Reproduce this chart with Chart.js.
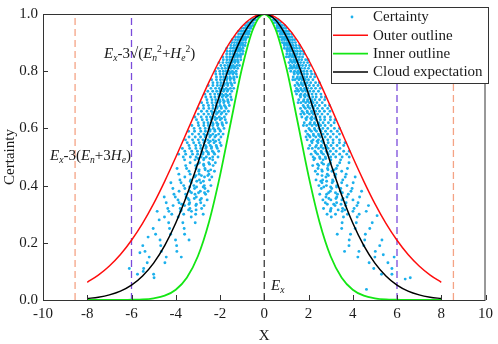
<!DOCTYPE html>
<html>
<head>
<meta charset="utf-8">
<script src="https://cdn.jsdelivr.net/npm/chart.js@4.4.1/dist/chart.umd.min.js"></script>
<style>
  html, body { margin: 0; padding: 0; background: #fff; }
  #wrap { width: 498px; height: 344px; }
</style>
</head>
<body>
<div id="wrap"><canvas id="cloudChart" width="498" height="344"></canvas></div>
<script>
// outline curves, sampled every 0.5 along X
const curveX = [-8, -7.5, -7, -6.5, -6, -5.5, -5, -4.5, -4, -3.5, -3, -2.5, -2, -1.5, -1, -0.5, 0,
  0.5, 1, 1.5, 2, 2.5, 3, 3.5, 4, 4.5, 5, 5.5, 6, 6.5, 7, 7.5, 8];
const outerY = [0.062, 0.087, 0.119, 0.159, 0.209, 0.268, 0.337, 0.415, 0.499, 0.587, 0.676, 0.762, 0.840, 0.907, 0.957, 0.989, 1,
  0.989, 0.957, 0.907, 0.840, 0.762, 0.676, 0.587, 0.499, 0.415, 0.337, 0.268, 0.209, 0.159, 0.119, 0.087, 0.062];
const innerY = [0, 0, 0, 0, 0.001, 0.002, 0.006, 0.015, 0.036, 0.078, 0.153, 0.272, 0.435, 0.626, 0.812, 0.949, 1,
  0.949, 0.812, 0.626, 0.435, 0.272, 0.153, 0.078, 0.036, 0.015, 0.006, 0.002, 0.001, 0, 0, 0, 0];
const expectY = [0.005, 0.010, 0.018, 0.031, 0.052, 0.084, 0.129, 0.190, 0.269, 0.366, 0.478, 0.599, 0.720, 0.832, 0.921, 0.980, 1,
  0.980, 0.921, 0.832, 0.720, 0.599, 0.478, 0.366, 0.269, 0.190, 0.129, 0.084, 0.052, 0.031, 0.018, 0.010, 0.005];

// dashed guides: Ex-3(En+3He), Ex-3sqrt(En^2+He^2), Ex and the mirrored ones
const guideX = [-8.55, -6, 0, 6, 8.55];

const xTickValues = [-10, -8, -6, -4, -2, 0, 2, 4, 6, 8, 10];
const yTickValues = [0, 0.2, 0.4, 0.6, 0.8, 1.0];

// cloud drops, one row per certainty level: [certainty, [x, x, ...]]
const dropRows = [
  [0.99, [-0.25, -0.32, -0.37, 0.28, 0.33, 0.39]],
  [0.98, [-0.39, -0.47, -0.53, -0.59, -0.44, 0.41, 0.50, 0.56, 0.46, 0.63]],
  [0.97, [-0.49, -0.57, -0.62, -0.70, -0.78, 0.46, 0.54, 0.60, 0.66, 0.74]],
  [0.96, [-0.52, -0.64, -0.68, -0.76, -0.85, 0.58, 0.66, 0.73, 0.80, 0.92]],
  [0.95, [-0.66, -0.76, -0.83, -0.93, -1.04, -0.60, 0.58, 0.69, 0.79, 0.87, 0.98, 0.74]],
  [0.94, [-0.67, -0.75, -0.83, -0.88, -0.95, -1.04, -1.16, 0.63, 0.72, 0.80, 0.86, 0.92, 1.01, 1.10]],
  [0.93, [-0.75, -0.84, -0.91, -0.98, -1.05, -1.16, -0.70, 0.72, 0.81, 0.90, 0.97, 1.04, 1.12, 1.24]],
  [0.92, [-0.74, -0.85, -0.94, -1.01, -1.08, -1.18, -1.30, 0.80, 0.91, 0.99, 1.06, 1.15, 1.26, 0.72]],
  [0.91, [-0.84, -0.94, -1.02, -1.11, -1.19, -1.30, -1.44, 0.79, 0.91, 1.01, 1.08, 1.16, 1.27, 1.37]],
  [0.90, [-0.85, -0.98, -1.07, -1.16, -1.24, -1.35, -1.47, 0.91, 1.02, 1.10, 1.19, 1.28, 1.41, 0.82]],
  [0.89, [-0.97, -1.08, -1.18, -1.26, -1.37, -1.51, -0.87, 0.91, 1.04, 1.13, 1.22, 1.31, 1.44, 1.59]],
  [0.88, [-0.96, -1.09, -1.20, -1.30, -1.40, -1.52, -1.69, 0.91, 1.05, 1.16, 1.25, 1.35, 1.46, 1.60]],
  [0.87, [-0.96, -1.11, -1.21, -1.32, -1.42, -1.54, -1.68, 1.04, 1.16, 1.28, 1.38, 1.50, 1.64, 1.77]],
  [0.86, [-1.07, -1.22, -1.33, -1.42, -1.55, -1.70, -0.98, 1.02, 1.15, 1.28, 1.38, 1.49, 1.63, 1.78]],
  [0.85, [-1.07, -1.21, -1.34, -1.45, -1.56, -1.70, -1.87, 1.10, 1.24, 1.35, 1.46, 1.59, 1.73, 1.00]],
  [0.84, [-1.06, -1.21, -1.34, -1.46, -1.56, -1.69, -1.85, 1.18, 1.33, 1.44, 1.56, 1.69, 1.87, 1.98]],
  [0.83, [-1.18, -1.33, -1.46, -1.58, -1.70, -1.87, -2.04, 1.12, 1.27, 1.40, 1.52, 1.64, 1.79, 1.96]],
  [0.82, [-1.24, -1.40, -1.52, -1.65, -1.79, -1.96, -1.12, 1.18, 1.34, 1.48, 1.60, 1.73, 1.88, 2.05]],
  [0.81, [-1.20, -1.36, -1.51, -1.64, -1.76, -1.91, -2.08, 1.27, 1.43, 1.55, 1.68, 1.83, 2.00, 1.15]],
  [0.80, [-1.27, -1.44, -1.58, -1.72, -1.85, -2.01, -2.21, 1.20, 1.37, 1.52, 1.65, 1.78, 1.93, 2.11]],
  [0.79, [-1.26, -1.42, -1.58, -1.71, -1.85, -2.00, -2.19, 1.36, 1.53, 1.68, 1.81, 1.95, 2.14, 2.29]],
  [0.78, [-1.38, -1.55, -1.69, -1.83, -1.97, -2.16, -1.24, 1.31, 1.50, 1.64, 1.78, 1.92, 2.09, 2.28]],
  [0.77, [-1.36, -1.54, -1.70, -1.84, -1.98, -2.16, -2.38, 1.39, 1.57, 1.71, 1.86, 2.00, 2.20, 1.29]],
  [0.76, [-1.34, -1.52, -1.68, -1.83, -1.96, -2.12, -2.32, 1.48, 1.67, 1.81, 1.94, 2.10, 2.32, 2.49]],
  [0.75, [-1.46, -1.65, -1.82, -1.97, -2.12, -2.32, -2.53, 1.39, 1.57, 1.74, 1.89, 2.04, 2.23, 2.43]],
  [0.74, [-1.53, -1.72, -1.88, -2.03, -2.20, -2.41, -1.38, 1.46, 1.65, 1.82, 1.97, 2.13, 2.32, 2.53]],
  [0.73, [-1.47, -1.67, -1.84, -2.00, -2.15, -2.33, -2.55, 1.55, 1.74, 1.90, 2.06, 2.23, 2.45, 1.41]],
  [0.72, [-1.54, -1.74, -1.92, -2.08, -2.24, -2.44, -2.68, 1.46, 1.66, 1.84, 2.00, 2.16, 2.34, 2.56]],
  [0.71, [-1.51, -1.72, -1.90, -2.06, -2.23, -2.41, -2.64, 1.64, 1.84, 2.02, 2.19, 2.35, 2.58, 2.76]],
  [0.70, [-1.65, -1.86, -2.02, -2.19, -2.36, -2.59, -1.48, 1.56, 1.79, 1.96, 2.13, 2.29, 2.50, 2.73]],
  [0.69, [-1.62, -1.83, -2.02, -2.19, -2.36, -2.57, -2.83, 1.66, 1.87, 2.04, 2.21, 2.38, 2.62, 1.53]],
  [0.68, [-1.58, -1.80, -2.00, -2.17, -2.32, -2.52, -2.75, 1.76, 1.97, 2.15, 2.30, 2.49, 2.75, 2.95]],
  [0.67, [-1.72, -1.94, -2.14, -2.32, -2.50, -2.74, -2.98, 1.64, 1.86, 2.06, 2.23, 2.41, 2.63, 2.87]],
  [0.66, [-1.80, -2.03, -2.21, -2.39, -2.59, -2.84, -1.62, 1.71, 1.94, 2.14, 2.32, 2.50, 2.72, 2.97]],
  [0.65, [-1.72, -1.95, -2.16, -2.34, -2.52, -2.73, -2.98, 1.81, 2.04, 2.22, 2.41, 2.61, 2.87, 1.65]],
  [0.64, [-1.80, -2.03, -2.24, -2.43, -2.61, -2.85, -3.13, 1.70, 1.94, 2.15, 2.33, 2.52, 2.73, 2.99]],
  [0.63, [-1.76, -1.99, -2.21, -2.40, -2.59, -2.80, -3.06, 1.90, 2.14, 2.35, 2.54, 2.73, 2.99, 3.20]],
  [0.62, [-1.91, -2.15, -2.34, -2.54, -2.73, -2.99, -1.71, 1.81, 2.08, 2.27, 2.46, 2.66, 2.90, 3.16]],
  [0.61, [-1.87, -2.11, -2.33, -2.53, -2.73, -2.97, -3.27, 1.92, 2.16, 2.36, 2.55, 2.75, 3.02, 1.77]],
  [0.60, [-1.82, -2.07, -2.30, -2.50, -2.67, -2.90, -3.17, 2.02, 2.27, 2.47, 2.65, 2.87, 3.17, 3.40]],
  [0.59, [-1.98, -2.23, -2.46, -2.66, -2.87, -3.15, -3.42, 1.88, 2.13, 2.36, 2.56, 2.77, 3.02, 3.30]],
  [0.58, [-2.06, -2.32, -2.53, -2.73, -2.96, -3.25, -1.86, 1.96, 2.22, 2.45, 2.66, 2.86, 3.12, 3.40]],
  [0.57, [-1.96, -2.23, -2.46, -2.67, -2.88, -3.12, -3.40, 2.07, 2.33, 2.54, 2.75, 2.99, 3.27, 1.89]],
  [0.56, [-2.05, -2.31, -2.55, -2.77, -2.98, -3.24, -3.56, 1.94, 2.21, 2.45, 2.66, 2.87, 3.11, 3.40]],
  [0.55, [-2.00, -2.27, -2.51, -2.73, -2.94, -3.19, -3.48, 2.16, 2.43, 2.67, 2.89, 3.11, 3.40, 3.65]],
  [0.54, [-2.17, -2.44, -2.66, -2.88, -3.10, -3.40, -1.95, 2.06, 2.36, 2.58, 2.80, 3.02, 3.29, 3.59]],
  [0.53, [-2.12, -2.39, -2.64, -2.87, -3.09, -3.37, -3.70, 2.17, 2.45, 2.67, 2.89, 3.12, 3.42, 2.00]],
  [0.52, [-2.06, -2.34, -2.60, -2.82, -3.02, -3.28, -3.59, 2.29, 2.57, 2.80, 2.99, 3.25, 3.59, 3.84]],
  [0.51, [-2.24, -2.52, -2.78, -3.01, -3.24, -3.55, -3.87, 2.12, 2.41, 2.67, 2.89, 3.12, 3.41, 3.73]],
  [0.50, [-2.33, -2.62, -2.85, -3.08, -3.34, -3.66, -2.09, 2.21, 2.50, 2.76, 3.00, 3.23, 3.52, 3.84]],
  [0.49, [-2.33, -2.74, -3.13, -3.60, 2.24, 2.66, 3.01, 3.45]],
  [0.48, [-2.51, -2.93, -3.35, -2.21, 2.60, 2.99, 3.41, 3.83]],
  [0.47, [-2.31, -2.73, -3.10, -3.55, 2.46, 2.88, 3.31, 2.19]],
  [0.46, [-2.68, -3.08, -3.51, -3.94, 2.43, 2.86, 3.26, 3.76]],
  [0.45, [-2.53, -2.96, -3.40, -2.25, 2.62, 3.06, 3.50, 2.31]],
  [0.44, [-2.50, -2.94, -3.35, -3.86, 2.41, 2.85, 3.23, 3.70]],
  [0.43, [-2.70, -3.14, -3.59, -2.37, 2.79, 3.21, 3.66, 4.11]],
  [0.42, [-2.47, -2.93, -3.32, -3.81, 2.64, 3.09, 3.55, 2.34]],
  [0.41, [-2.87, -3.30, -3.76, -4.22, 2.61, 3.07, 3.50, 4.02]],
  [0.40, [-2.71, -3.18, -3.64, -2.41, 2.81, 3.28, 3.74, 2.47]],
  [0.39, [-2.68, -3.15, -3.59, -4.13, 2.58, 3.05, 3.46, 3.97]],
  [0.38, [-2.89, -3.37, -3.85, -2.54, 2.99, 3.44, 3.92, 4.40]],
  [0.37, [-2.65, -3.13, -3.55, -4.08, 2.82, 3.31, 3.80, 2.51]],
  [0.36, [-3.07, -3.53, -4.02, -4.52, 2.79, 3.28, 3.74, 4.31]],
  [0.35, [-2.90, -3.40, -3.90, -2.58, 3.01, 3.51, 4.01, 2.65]],
  [0.34, [-2.87, -3.37, -3.85, -4.43, 2.76, 3.27, 3.70, 4.24]],
  [0.33, [-3.09, -3.60, -4.12, -2.72, 3.20, 3.68, 4.19, 4.71]],
  [0.32, [-2.83, -3.36, -3.80, -4.36, 3.02, 3.54, 4.06, 2.68]],
  [0.31, [-3.29, -3.78, -4.31, -4.84, 2.99, 3.52, 4.01, 4.61]],
  [0.30, [-3.10, -3.64, -4.18, -2.76, 3.22, 3.76, 4.29, 2.84]],
  [0.29, [-3.30, -3.89, -4.51, 3.58, 4.20, 3.03]],
  [0.27, [-3.68, -4.32, -3.12, 3.52, 4.16, 4.88]],
  [0.25, [-3.62, -4.28, -5.02, 3.50, 4.11, 4.77]],
  [0.23, [-3.60, -4.23, -4.91, 3.90, 4.57, 3.30]],
  [0.21, [-4.01, -4.71, -3.40, 3.84, 4.54, 5.32]],
  [0.19, [-3.96, -4.68, -5.49, 3.83, 4.50, 5.22]],
  [0.17, [-3.95, -4.65, -5.39, 4.28, 5.02, 3.63]],
  [0.15, [-4.43, -5.20, -3.75, 4.23, 5.00, 5.87]],
  [0.13, [-4.49, -5.29, 4.74, 5.59]],
  [0.11, [-5.45, -6.10, 5.77, 4.95]],
  [0.09, [-5.73, -5.00, 5.77, 5.30]],
];
// drops between the rows, on the inner side of the expectation curve
const dropRowsInner = [
  [0.955, [-0.61, -0.68, -0.75, 0.60, 0.67, 0.73]],
  [0.935, [-0.78, -0.86, -0.71, 0.76, 0.84, 0.92]],
  [0.915, [-0.83, -0.93, -1.01, 0.85, 0.95, 1.04]],
  [0.895, [-0.98, -1.08, -1.19, 1.00, 1.10, 0.91]],
  [0.875, [-1.05, -1.16, -1.28, 1.02, 1.14, 1.24]],
  [0.855, [-1.19, -1.31, -1.08, 1.16, 1.29, 1.41]],
  [0.835, [-1.19, -1.32, -1.44, 1.22, 1.35, 1.48]],
  [0.815, [-1.33, -1.47, -1.61, 1.36, 1.50, 1.23]],
  [0.795, [-1.37, -1.52, -1.67, 1.34, 1.49, 1.62]],
  [0.775, [-1.52, -1.68, -1.38, 1.48, 1.64, 1.80]],
  [0.755, [-1.48, -1.65, -1.80, 1.52, 1.68, 1.85]],
  [0.735, [-1.63, -1.80, -1.98, 1.67, 1.84, 1.51]],
  [0.715, [-1.66, -1.84, -2.02, 1.62, 1.80, 1.96]],
  [0.695, [-1.81, -2.00, -1.64, 1.77, 1.96, 2.15]],
  [0.675, [-1.75, -1.95, -2.12, 1.80, 1.99, 2.19]],
  [0.655, [-1.91, -2.11, -2.32, 1.95, 2.16, 1.77]],
  [0.635, [-1.93, -2.14, -2.35, 1.88, 2.10, 2.28]],
  [0.615, [-2.09, -2.31, -1.90, 2.05, 2.27, 2.48]],
  [0.595, [-2.01, -2.24, -2.44, 2.06, 2.29, 2.52]],
  [0.575, [-2.18, -2.42, -2.65, 2.23, 2.47, 2.03]],
  [0.555, [-2.20, -2.44, -2.68, 2.14, 2.39, 2.60]],
  [0.535, [-2.38, -2.62, -2.15, 2.32, 2.57, 2.82]],
  [0.515, [-2.28, -2.53, -2.76, 2.33, 2.59, 2.85]],
  [0.495, [-2.46, -2.72, -2.99, 2.52, 2.78, 2.28]],
  [0.475, [-2.47, -2.74, -3.01, 2.41, 2.68, 2.92]],
  [0.455, [-2.67, -2.94, -2.42, 2.60, 2.88, 3.16]],
  [0.435, [-2.55, -2.84, -3.09, 2.61, 2.90, 3.19]],
  [0.415, [-2.75, -3.05, -3.34, 2.82, 3.11, 2.56]],
  [0.395, [-2.76, -3.06, -3.37, 2.69, 3.00, 3.27]],
  [0.375, [-2.97, -3.29, -2.70, 2.91, 3.22, 3.53]],
  [0.355, [-2.84, -3.16, -3.45, 2.92, 3.24, 3.56]],
  [0.335, [-3.07, -3.40, -3.73, 3.14, 3.47, 2.85]],
  [0.315, [-3.08, -3.42, -3.75, 3.00, 3.34, 3.64]],
];
// loose drops away from the rows [x, certainty]
const strayDrops = [[-4.98, 0.078], [-5.47, 0.10], [6.37, 0.073], [6.60, 0.078], [4.62, 0.037],
  [-5.62, 0.165], [-5.25, 0.22], [5.10, 0.295], [5.38, 0.158], [-4.75, 0.28]];

const FONT = "'Liberation Serif', 'Times New Roman', serif";
const INK = '#1a1a1a';

const toPoints = (xs, ys) => xs.map((x, i) => ({ x: x, y: ys[i] }));
const guideColors = ['#f4a385', '#7a4bdb', '#3a3a3a', '#7a4bdb', '#f4a385'];

const dropPoints = [];
dropRows.concat(dropRowsInner).forEach((row) => row[1].forEach((x) => dropPoints.push({ x: x, y: row[0] })));
strayDrops.forEach((p) => dropPoints.push({ x: p[0], y: p[1] }));

function drawRich(ctx, x, y, runs, size) {
  runs.forEach((r) => {
    const small = r.sub || r.sup;
    const s = small ? size * 0.64 : size;
    ctx.font = `${r.it ? 'italic ' : ''}${s}px ${FONT}`;
    const dy = r.sub ? size * 0.22 : r.sup ? -size * 0.4 : 0;
    ctx.fillText(r.t, x, y + dy);
    x += ctx.measureText(r.t).width;
  });
}

const annotations = {
  id: 'annotations',
  afterDatasetsDraw(chart) {
    const ctx = chart.ctx;
    const a = chart.chartArea;
    const xs = chart.scales.x;
    const ys = chart.scales.y;
    ctx.save();
    ctx.fillStyle = INK;
    ctx.textBaseline = 'alphabetic';
    ctx.textAlign = 'left';
    drawRich(ctx, 104, 58, [
      { t: 'E', it: 1 }, { t: 'x', it: 1, sub: 1 }, { t: '-3\u221A(' },
      { t: 'E', it: 1 }, { t: 'n', it: 1, sub: 1 }, { t: '2', sup: 1 }, { t: '+' },
      { t: 'H', it: 1 }, { t: 'e', it: 1, sub: 1 }, { t: '2', sup: 1 }, { t: ')' },
    ], 15);
    drawRich(ctx, 50, 160, [
      { t: 'E', it: 1 }, { t: 'x', it: 1, sub: 1 }, { t: '-3(' },
      { t: 'E', it: 1 }, { t: 'n', it: 1, sub: 1 }, { t: '+3' },
      { t: 'H', it: 1 }, { t: 'e', it: 1, sub: 1 }, { t: ')' },
    ], 15);
    drawRich(ctx, 271, 290, [{ t: 'E', it: 1 }, { t: 'x', it: 1, sub: 1 }], 15);

    // frame with inward ticks
    ctx.strokeStyle = '#333';
    ctx.lineWidth = 1;
    ctx.strokeRect(a.left + 0.5, a.top + 0.5, a.right - a.left - 1, a.bottom - a.top);
    ctx.beginPath();
    xTickValues.forEach((v) => {
      const px = Math.round(xs.getPixelForValue(v)) + 0.5;
      ctx.moveTo(px, a.bottom);
      ctx.lineTo(px, a.bottom - 5);
    });
    yTickValues.forEach((v) => {
      const py = Math.round(ys.getPixelForValue(v)) + 0.5;
      ctx.moveTo(a.left, py);
      ctx.lineTo(a.left + 5, py);
    });
    ctx.stroke();

    // axis titles
    ctx.font = `15px ${FONT}`;
    ctx.textAlign = 'center';
    ctx.textBaseline = 'middle';
    ctx.fillText('X', (a.left + a.right) / 2, 336);
    ctx.translate(10, (a.top + a.bottom) / 2);
    ctx.rotate(-Math.PI / 2);
    ctx.fillText('Certainty', 0, 0);
    ctx.restore();
  },
};

const boxLegend = {
  id: 'boxLegend',
  afterDraw(chart) {
    const ctx = chart.ctx;
    const left = 331, top = 7, right = 489, bottom = 83;
    ctx.save();
    ctx.fillStyle = '#fff';
    ctx.fillRect(left, top, right - left, bottom - top);
    ctx.strokeStyle = '#333';
    ctx.lineWidth = 1;
    ctx.strokeRect(left + 0.5, top + 0.5, right - left - 1, bottom - top);
    const items = [chart.data.datasets[3], chart.data.datasets[2], chart.data.datasets[1], chart.data.datasets[0]];
    ctx.font = `15px ${FONT}`;
    ctx.textBaseline = 'middle';
    ctx.textAlign = 'left';
    items.forEach((ds, i) => {
      const y = 17 + i * 18.3;
      if (ds.showLine === false) {
        ctx.fillStyle = ds.backgroundColor;
        ctx.beginPath();
        ctx.arc(352, y, 1.4, 0, Math.PI * 2);
        ctx.fill();
      } else {
        ctx.strokeStyle = ds.borderColor;
        ctx.lineWidth = ds.borderWidth;
        ctx.beginPath();
        ctx.moveTo(333, y);
        ctx.lineTo(368, y);
        ctx.stroke();
      }
      ctx.fillStyle = INK;
      ctx.fillText(ds.label, 373, y + 0.5);
    });
    ctx.restore();
  },
};

const curveStyle = { pointRadius: 0, fill: false, cubicInterpolationMode: 'monotone' };

const datasets = [
  Object.assign({ label: 'Cloud expectation', data: toPoints(curveX, expectY), borderColor: '#000', borderWidth: 1.5 }, curveStyle),
  Object.assign({ label: 'Inner outline', data: toPoints(curveX, innerY), borderColor: '#14e614', borderWidth: 1.8 }, curveStyle),
  Object.assign({ label: 'Outer outline', data: toPoints(curveX, outerY), borderColor: '#ff0d0d', borderWidth: 1.5 }, curveStyle),
  {
    label: 'Certainty',
    data: dropPoints,
    showLine: false,
    pointRadius: 1.45,
    pointBorderWidth: 0,
    backgroundColor: '#1cb0ec',
    pointBackgroundColor: '#1cb0ec',
  },
];
guideX.forEach((gx, i) => {
  datasets.push({
    label: 'guide' + i,
    data: [{ x: gx, y: 0 }, { x: gx, y: 1 }],
    borderColor: guideColors[i],
    borderWidth: 1.3,
    borderDash: [7, 4],
    pointRadius: 0,
    fill: false,
  });
});

const tickFont = { family: FONT, size: 15 };

new Chart(document.getElementById('cloudChart'), {
  type: 'line',
  data: { datasets: datasets },
  options: {
    responsive: false,
    devicePixelRatio: 1,
    animation: false,
    layout: { padding: { top: 7, right: 9, left: 0, bottom: 0 } },
    plugins: { legend: { display: false }, tooltip: { enabled: false } },
    scales: {
      x: {
        type: 'linear',
        min: -10,
        max: 10,
        grid: { display: false, drawTicks: false },
        border: { display: false },
        ticks: { font: tickFont, color: INK, padding: 5, maxRotation: 0, autoSkip: false },
        afterBuildTicks: (axis) => { axis.ticks = xTickValues.map((v) => ({ value: v })); },
        afterFit: (axis) => { axis.height = 44; },
      },
      y: {
        type: 'linear',
        min: 0,
        max: 1,
        grid: { display: false, drawTicks: false },
        border: { display: false },
        ticks: { font: tickFont, color: INK, padding: 5, callback: (v) => Number(v).toFixed(1) },
        afterBuildTicks: (axis) => { axis.ticks = yTickValues.map((v) => ({ value: v })); },
        afterFit: (axis) => { axis.width = 43; },
      },
    },
  },
  plugins: [annotations, boxLegend],
});
</script>
</body>
</html>
